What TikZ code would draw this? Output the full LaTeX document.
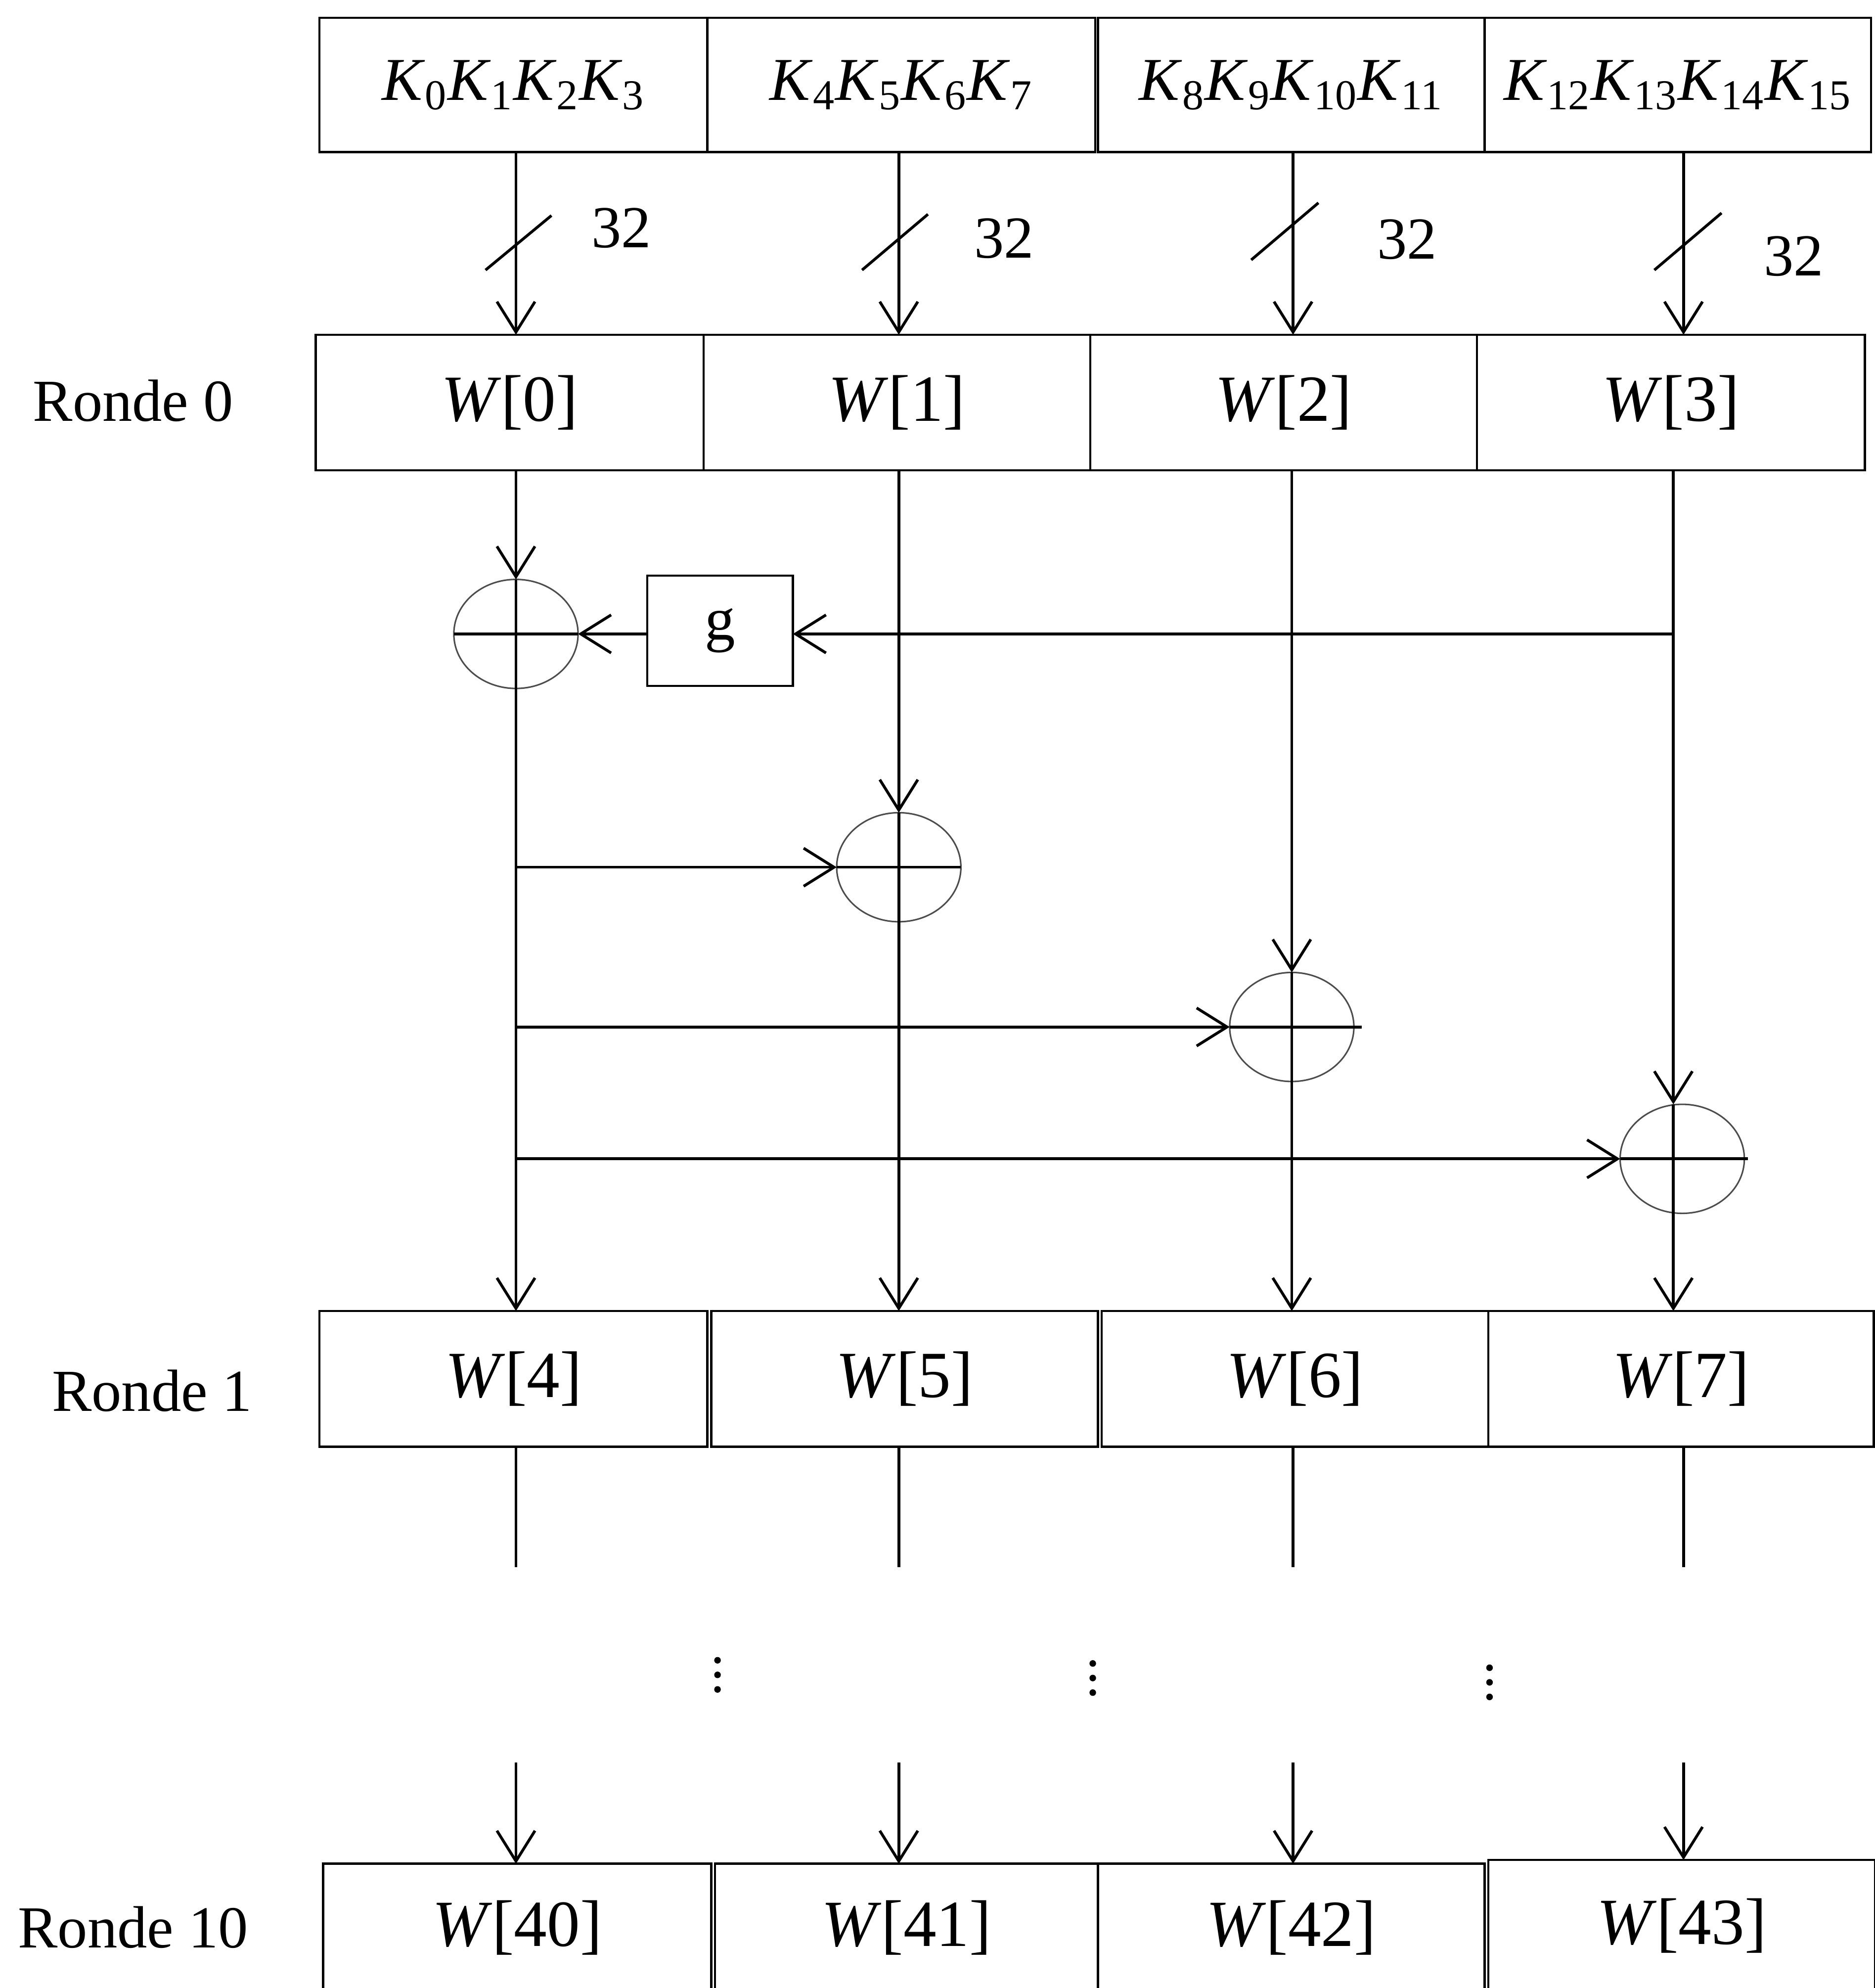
\documentclass[tikz,border=0pt]{standalone}
\usepackage{fontspec}
\setmainfont{Liberation Serif}
\usetikzlibrary{arrows.meta,shapes.geometric}
\newcommand\kk[1]{\textit{K}\textsubscript{#1}}
\newcommand\ww[1]{\textit{W}[#1]}
\begin{document}
\begin{tikzpicture}[x=0.5pt,y=-0.5pt,
  box/.style={draw,line width=0.9pt,inner sep=0pt,outer sep=0pt,minimum height=53.5pt,font=\fontsize{26}{30}\selectfont},
  ktxt/.style={font=\fontsize{24}{28}\selectfont},
  lbl/.style={font=\fontsize{23.5}{28}\selectfont,inner sep=0pt},
  xorn/.style={ellipse,draw=black!70,line width=0.6pt,minimum width=49pt,minimum height=43pt,inner sep=0pt,outer sep=0pt},
  conn/.style={line width=1.1pt},
  arr/.style={conn,-{Straight Barb[length=12pt,width=15pt]}}]
\useasboundingbox (0,0) rectangle (1479,1568);
\clip (0,0) rectangle (1479,1568);
% top key boxes
\node[box,ktxt,minimum width=153pt,minimum height=53pt] (k0) at (405,67) {\kk{0}\kk{1}\kk{2}\kk{3}};
\node[box,ktxt,minimum width=153pt,minimum height=53pt] (k1) at (711,67) {\kk{4}\kk{5}\kk{6}\kk{7}};
\node[box,ktxt,minimum width=152.5pt,minimum height=53pt] (k2) at (1018.5,67) {\kk{8}\kk{9}\kk{10}\kk{11}};
\node[box,ktxt,minimum width=152.5pt,minimum height=53pt] (k3) at (1323.5,67) {\kk{12}\kk{13}\kk{14}\kk{15}};
% round 0
\node[box,minimum width=153pt] (w0) at (402,317.5) {\ww{0}};
\node[box,minimum width=152.5pt] (w1) at (707.5,317.5) {\ww{1}};
\node[box,minimum width=152.5pt] (w2) at (1012.5,317.5) {\ww{2}};
\node[box,minimum width=153pt] (w3) at (1318,317.5) {\ww{3}};
% round 1
\node[box,minimum width=153pt] (w4) at (405,1087.5) {\ww{4}};
\node[box,minimum width=152.5pt] (w5) at (713.5,1087.5) {\ww{5}};
\node[box,minimum width=152.5pt] (w6) at (1021.5,1087.5) {\ww{6}};
\node[box,minimum width=152pt] (w7) at (1326,1087.5) {\ww{7}};
% round 10
\node[box,minimum width=153pt,minimum height=50.5pt] (w40) at (408,1520.5) {\ww{40}};
\node[box,minimum width=151pt,minimum height=50.5pt] (w41) at (715,1520.5) {\ww{41}};
\node[box,minimum width=152.5pt,minimum height=50.5pt] (w42) at (1018.5,1520.5) {\ww{42}};
\node[box,minimum width=152.5pt,minimum height=52pt] (w43) at (1326.5,1519) {\ww{43}};
% labels
\node[lbl] (r0) at (105,316) {Ronde 0};
\node[lbl] (r1) at (120,1097) {Ronde 1};
\node[lbl] (r10) at (105,1520) {Ronde 10};
\node[lbl] (n0) at (490,180) {32};
\node[lbl] (n1) at (792,188) {32};
\node[lbl] (n2) at (1110,189) {32};
\node[lbl] (n3) at (1415,202) {32};
% g box and xor
\node[box,font=\fontsize{24}{28}\selectfont,minimum width=57.5pt,minimum height=43.5pt] (g) at (568,497.5) {g};
\node[xorn] (x0) at (407,500) {};
\node[xorn] (x1) at (709,684) {};
\node[xorn] (x2) at (1019,810) {};
\node[xorn] (x3) at (1327,914) {};
% column coordinates
\coordinate (a0) at (407,0); \coordinate (a1) at (709,0);
\coordinate (a2) at (1020,0); \coordinate (a3) at (1328,0);
\coordinate (b0) at (407,0); \coordinate (b1) at (709,0);
\coordinate (b2) at (1019,0); \coordinate (b3) at (1320,0);
\coordinate (e0) at (407,1236); \coordinate (e1) at (709,1236);
\coordinate (e2) at (1020,1236); \coordinate (e3) at (1328,1236);
\coordinate (f0) at (407,1390); \coordinate (f1) at (709,1390);
\coordinate (f2) at (1020,1390); \coordinate (f3) at (1328,1390);
% top arrows with width slashes
\draw[arr] (a0 |- k0.south) -- (a0 |- w0.north);
\draw[arr] (a1 |- k1.south) -- (a1 |- w1.north);
\draw[arr] (a2 |- k2.south) -- (a2 |- w2.north);
\draw[arr] (a3 |- k3.south) -- (a3 |- w3.north);
\draw[conn] (383,213) -- (435,170);
\draw[conn] (680,213) -- (732,169);
\draw[conn] (987,205) -- (1040,160);
\draw[conn] (1305,213) -- (1358,168);
% key schedule middle
\draw[arr] (b0 |- w0.south) -- (x0.north);
\draw[arr] (x0.north) -- (b0 |- w4.north);
\draw[conn] (x0.west) -- (x0.east);
\draw[arr] (b1 |- w1.south) -- (x1.north);
\draw[arr] (x1.north) -- (b1 |- w5.north);
\draw[conn] (x1.west) -- (x1.east);
\draw[arr] (b2 |- w2.south) -- (x2.north);
\draw[arr] (x2.north) -- (b2 |- w6.north);
\draw[conn] (x2.west) -- ([xshift=3pt]x2.east);
\draw[arr] (b3 |- w3.south) -- (b3 |- x3.north);
\draw[arr] (b3 |- x3.north) -- (b3 |- w7.north);
\draw[conn] (x3.west) -- ([xshift=1.5pt]x3.east);
\draw[arr] (b3 |- x0.east) -- (g.east |- x0.east);
\draw[arr] (g.west |- x0.east) -- (x0.east);
\draw[arr] (b0 |- x1.west) -- (x1.west);
\draw[arr] (b0 |- x2.west) -- (x2.west);
\draw[arr] (b0 |- x3.west) -- (x3.west);
% below round 1
\draw[conn] (e0 |- w4.south) -- (e0);
\draw[conn] (e1 |- w5.south) -- (e1);
\draw[conn] (e2 |- w6.south) -- (e2);
\draw[conn] (e3 |- w7.south) -- (e3);
% dots
\foreach \x/\y in {566/1309.5, 862/1312, 1175/1315.4} {
  \fill (\x,\y) circle (1.3pt);
  \fill (\x,\y+11.5) circle (1.3pt);
  \fill (\x,\y+23) circle (1.3pt);
}
% arrows to round 10
\draw[arr] (f0) -- (f0 |- w40.north);
\draw[arr] (f1) -- (f1 |- w41.north);
\draw[arr] (f2) -- (f2 |- w42.north);
\draw[arr] (f3) -- (f3 |- w43.north);
\end{tikzpicture}
\end{document}
